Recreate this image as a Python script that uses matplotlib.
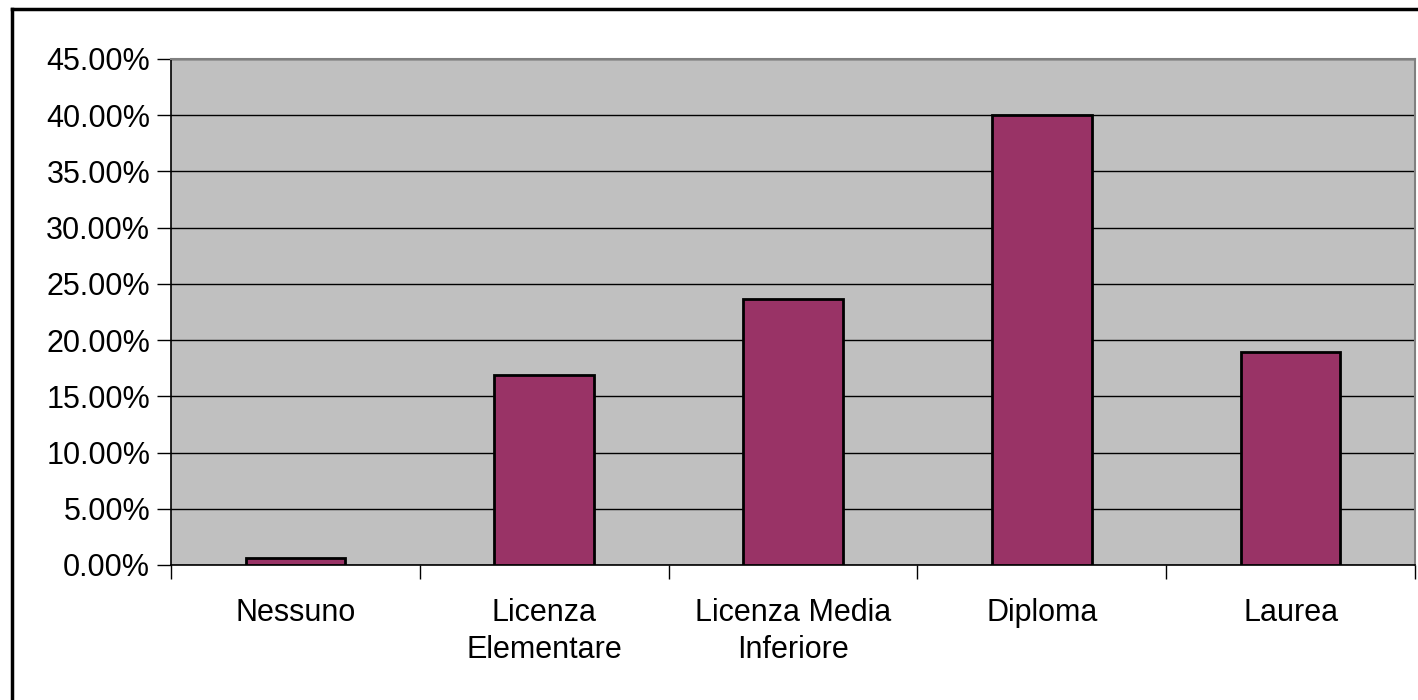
import matplotlib.pyplot as plt
from matplotlib.lines import Line2D
from matplotlib.ticker import FuncFormatter, MultipleLocator

categories = ["Nessuno", "Licenza\nElementare", "Licenza Media\nInferiore", "Diploma", "Laurea"]
values = [0.65, 16.9, 23.7, 40.0, 18.9]


def main():
    plt.rcParams['font.family'] = ['Liberation Sans', 'DejaVu Sans']
    fig = plt.figure(figsize=(14.18, 7.0), dpi=100)
    ax = fig.add_axes([171 / 1418, 1 - 565 / 700, (1415 - 171) / 1418, (565 - 59) / 700])

    x = range(len(categories))
    ax.bar(x, values, width=0.4, color="#993366", edgecolor="black", linewidth=2, zorder=3)

    ax.set_facecolor("#c0c0c0")
    ax.set_xlim(-0.5, len(categories) - 0.5)
    ax.set_ylim(0, 45)
    ax.yaxis.set_major_locator(MultipleLocator(5))
    ax.yaxis.set_major_formatter(FuncFormatter(lambda v, p: "%.2f%%" % v))
    ax.grid(axis="y", color="black", linewidth=1, zorder=1)

    # ticks between categories, labels centred under bars
    ax.set_xticks([i - 0.5 for i in range(len(categories) + 1)])
    ax.set_xticklabels([])
    ax.set_xticks(list(x), minor=True)
    ax.set_xticklabels(categories, minor=True, linespacing=1.3)
    ax.tick_params(axis="x", which="major", length=10, width=1, direction="out")
    ax.tick_params(axis="x", which="minor", length=0, pad=24, labelsize=22)
    ax.tick_params(axis="y", length=10, width=1, direction="out", labelsize=22, pad=5)

    for s in ["left", "bottom"]:
        ax.spines[s].set_color("black")
        ax.spines[s].set_linewidth(1.2)
    for s in ["top", "right"]:
        ax.spines[s].set_color("#808080")
        ax.spines[s].set_linewidth(1.5)

    # outer chart border, only top and left are visible
    W, H = 1418, 700
    fig.lines.append(Line2D([12 / W, 1], [1 - 9 / H, 1 - 9 / H], transform=fig.transFigure,
                            color="black", linewidth=2.5))
    fig.lines.append(Line2D([12 / W, 12 / W], [0, 1 - 9 / H], transform=fig.transFigure,
                            color="black", linewidth=2.5))
    fig.savefig("out.png", dpi=100)
    plt.close(fig)


if __name__ == "__main__":
    main()
